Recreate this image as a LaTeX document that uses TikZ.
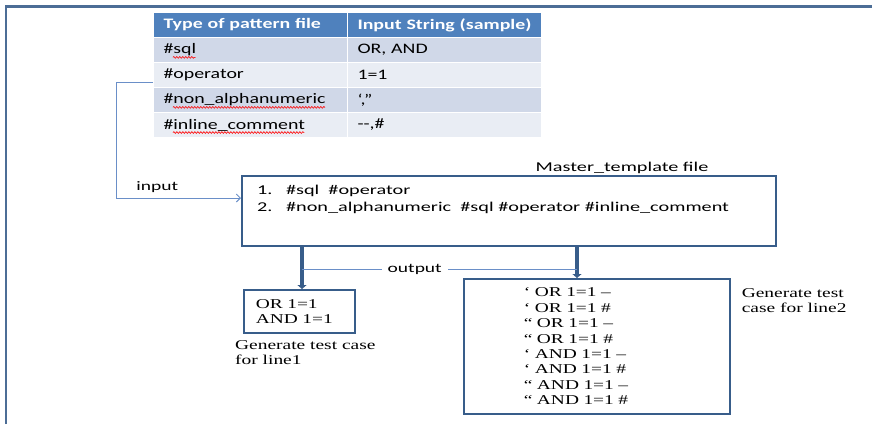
\documentclass[tikz,border=0pt]{standalone}
\usepackage{fontspec}
\usetikzlibrary{arrows.meta,positioning,decorations.pathmorphing}

\newfontfamily\tabfont[FakeStretch=1.37]{Carlito}
\newfontfamily\labfont[FakeStretch=1.5]{Carlito}
\newfontfamily\casefont[FakeStretch=1.44]{Liberation Serif}

\definecolor{hdrblue}{HTML}{4F81BD}
\definecolor{rowdark}{HTML}{D0D8E8}
\definecolor{rowlight}{HTML}{E9EDF4}
\definecolor{boxblue}{HTML}{385D8A}
\definecolor{linkblue}{HTML}{6A8FC8}

\newlength\hashw
\newlength\sqlw
\newlength\nonw
\newlength\inlw
\newcommand\tabsize{\tabfont\fontsize{14.5}{16}\selectfont}

\tikzset{
  cell/.style={anchor=north west, draw=white, line width=1pt, minimum height=25pt,
    inner xsep=10pt, text width=174pt, align=left, font=\tabsize},
  hdrcell/.style={cell, fill=hdrblue, text=white, font=\tabsize\bfseries},
  spellwave/.style={draw=red, line width=0.6pt, decorate,
    decoration={snake, amplitude=0.9pt, segment length=3pt}},
  casebox/.style={draw=boxblue, line width=1.6pt, anchor=north west, align=left,
    font=\casefont\fontsize{13.5}{15.4}\selectfont},
  caselabel/.style={align=left, inner sep=0pt, font=\casefont\fontsize{13.5}{15}\selectfont},
  thinlink/.style={draw=linkblue, line width=1pt},
  thicklink/.style={draw=boxblue, line width=4.5pt, -{Triangle[width=9pt,length=4pt]}},
}

\begin{document}
\settowidth{\hashw}{\tabsize\#}%
\settowidth{\sqlw}{\tabsize sql}%
\settowidth{\nonw}{\tabsize non\_alphanumeric}%
\settowidth{\inlw}{\tabsize inline\_comment}%
\begin{tikzpicture}[x=1pt,y=-1pt]
\useasboundingbox (0,0) rectangle (872,424);

% frame
\draw[boxblue!90, line width=2.2pt] (6,424) -- (6,6.5) -- (872,6.5);

% pattern table
\node[hdrcell] (h1) at (153,12) {Type of pattern file};
\node[hdrcell] (h2) at (347,12) {Input String (sample)};
\foreach \i/\kind/\sample/\shade in {1/{\#sql}/{OR, AND}/rowdark,
    2/{\#operator}/{1=1}/rowlight,
    3/{\#non\_alphanumeric}/{‘,”}/rowdark,
    4/{\#inline\_comment}/{{-}{-},\#}/rowlight}{
  \node[cell, fill=\shade] (k\i) at (153,{12+25*\i}) {\kind};
  \node[cell, fill=\shade] (s\i) at (347,{12+25*\i}) {\sample};
}
% spell-check marks
\foreach \i/\len in {1/\sqlw,3/\nonw,4/\inlw}{
  \coordinate (w\i) at ([xshift=10pt+\hashw,yshift=-3.5pt]k\i.base west);
  \draw[spellwave] (w\i) -- ([xshift=\len]w\i);
}

% master template
\node[draw=boxblue, line width=1.6pt, anchor=north west, minimum width=534pt, minimum height=70pt] (master) at (241,175) {};
\node[anchor=north west, align=left, inner sep=0pt, font=\labfont\fontsize{13.5}{17}\selectfont]
  (masterlist) at ([xshift=16pt,yshift=-10pt]master.north west)
  {1.\hspace{1em}\#sql\ \ \#operator\\2.\hspace{1em}\#non\_alphanumeric\ \ \#sql \#operator \#inline\_comment};
\node[above left=1pt and 68pt of master.north east, anchor=south east, inner sep=0pt,
  font=\labfont\fontsize{13.5}{15}\selectfont] (mastertitle) {Master\_template file};

% input
\coordinate (inbend) at (116,198);
\draw[thinlink, -{Straight Barb[length=4pt,width=8pt]}] ([yshift=-7.5pt]k2.west) -| (inbend)
  -- node[pos=0.33, above=2pt, font=\labfont\fontsize{13}{15}\selectfont] (inlabel) {input} (inbend -| master.west);

% generated cases
\node[casebox, minimum width=111pt, minimum height=43pt, inner xsep=12pt, text width=87pt] (line1box) at (243,289)
  {OR 1=1\\AND 1=1};
\node[caselabel, anchor=north west] (line1label) at ([xshift=-8pt,yshift=-7pt]line1box.south west)
  {Generate test case\\for line1};
\node[casebox, minimum width=266pt, minimum height=135pt, inner xsep=60pt, text width=146pt] (line2box) at (463,278)
  {‘ OR 1=1 –\\‘ OR 1=1 \#\\“ OR 1=1 –\\“ OR 1=1 \#\\‘ AND 1=1 –\\‘ AND 1=1 \#\\“ AND 1=1 –\\“ AND 1=1 \#};
\node[caselabel, anchor=north west] (line2label) at ([xshift=11pt,yshift=-10pt]line2box.north east)
  {Generate test\\case for line2};

% output
\coordinate (outA) at (302,269);
\coordinate (outB) at (577,269);
\draw[thicklink] (master.south -| outA) -- (line1box.north -| outA);
\draw[thicklink] (master.south -| outB) -- (line2box.north -| outB);
\draw[thinlink] (outA) -- node[pos=0.41, fill=white, inner xsep=6pt, font=\labfont\fontsize{13}{15}\selectfont] (outlabel) {output} (outB);

\end{tikzpicture}
\end{document}
